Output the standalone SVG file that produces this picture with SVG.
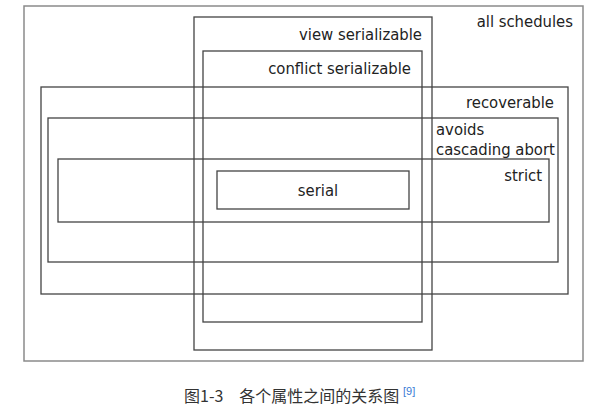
<svg xmlns="http://www.w3.org/2000/svg" width="610" height="411" viewBox="0 0 610 411">
<style>
.box{fill:none;stroke:#444;stroke-width:1.3}
.outer{fill:none;stroke:#8a8a8a;stroke-width:1.5}
.lbl{font-family:"DejaVu Sans Condensed","DejaVu Sans",sans-serif;font-size:16.5px;fill:#222}
.cap{font-family:"Noto Sans CJK SC",sans-serif;font-size:16px;fill:#333}
</style>
<rect width="610" height="411" fill="#fff"/>
<g id="all-schedules">
<rect class="outer" x="24" y="6" width="559" height="355"/>
<text class="lbl" x="573" y="27" text-anchor="end">all schedules</text>
</g>
<g id="recoverable">
<rect class="box" x="41" y="87" width="527" height="207"/>
<text class="lbl" x="554" y="108" text-anchor="end">recoverable</text>
</g>
<g id="avoids-cascading-abort">
<rect class="box" x="48" y="118" width="510" height="144"/>
<text class="lbl" x="436" y="135">avoids</text>
<text class="lbl" x="436" y="155">cascading abort</text>
</g>
<g id="strict">
<rect class="box" x="58" y="159" width="491" height="63"/>
<text class="lbl" x="542" y="181" text-anchor="end">strict</text>
</g>
<g id="view-serializable">
<rect class="box" x="194" y="17" width="238" height="333"/>
<text class="lbl" x="422" y="40" text-anchor="end">view serializable</text>
</g>
<g id="conflict-serializable">
<rect class="box" x="203" y="51" width="219" height="271"/>
<text class="lbl" x="411" y="74" text-anchor="end">conflict serializable</text>
</g>
<g id="serial">
<rect class="box" x="217" y="171" width="192" height="38"/>
<text class="lbl" x="318" y="196" text-anchor="middle">serial</text>
</g>
<g id="caption">
<text class="cap" x="184" y="402">图1-3　各个属性之间的关系图</text>
<text x="403" y="395" font-family="Liberation Sans,sans-serif" font-size="11" fill="#3a7bd5">[9]</text>
</g>
</svg>
